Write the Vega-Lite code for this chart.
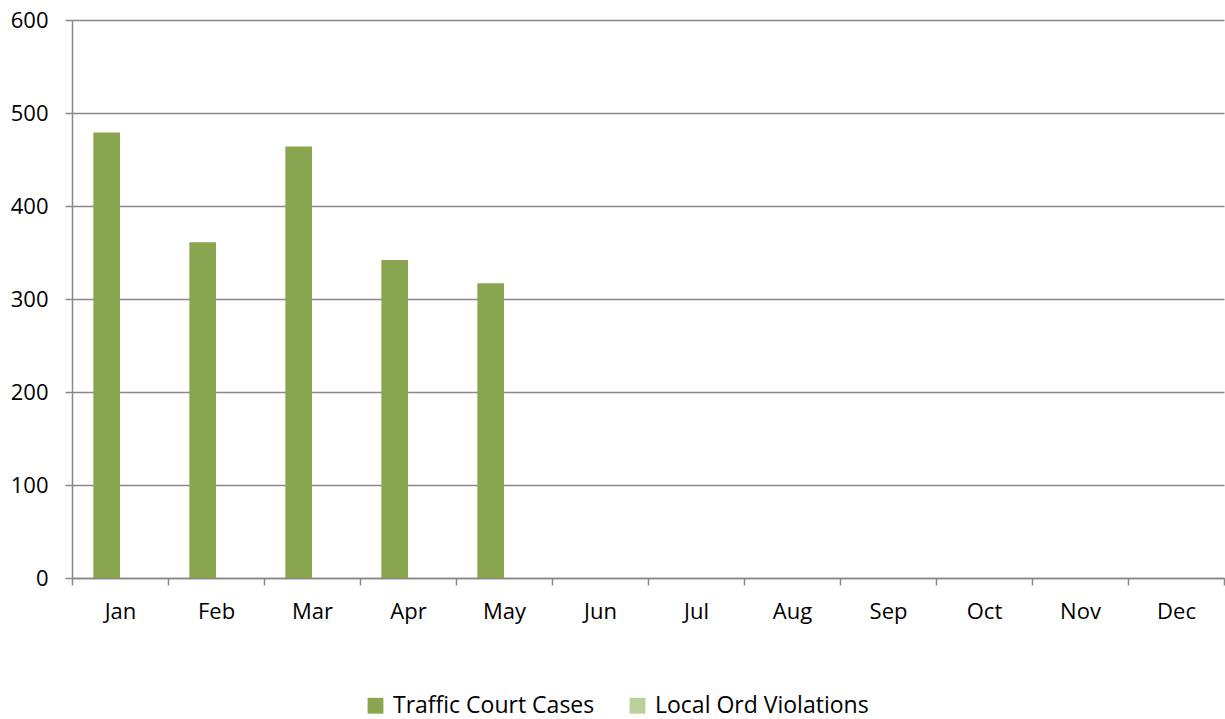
{
  "$schema": "https://vega.github.io/schema/vega-lite/v6.json",
  "width": 1152,
  "height": 558,
  "autosize": {"type": "none"},
  "padding": {"left": 72, "top": 20, "right": 1, "bottom": 141},
  "background": "white",
  "config": {"view": {"stroke": null}, "font": "Open Sans"},
  "data": {
    "values": [
      {"month": "Jan", "series": "Traffic Court Cases", "value": 479},
      {"month": "Feb", "series": "Traffic Court Cases", "value": 361},
      {"month": "Mar", "series": "Traffic Court Cases", "value": 464},
      {"month": "Apr", "series": "Traffic Court Cases", "value": 342},
      {"month": "May", "series": "Traffic Court Cases", "value": 317},
      {"month": "Jan", "series": "Local Ord Violations", "value": 0},
      {"month": "Feb", "series": "Local Ord Violations", "value": 0},
      {"month": "Mar", "series": "Local Ord Violations", "value": 0},
      {"month": "Apr", "series": "Local Ord Violations", "value": 0},
      {"month": "May", "series": "Local Ord Violations", "value": 0}
    ]
  },
  "mark": {"type": "bar"},
  "encoding": {
    "x": {
      "field": "month",
      "type": "nominal",
      "sort": ["Jan","Feb","Mar","Apr","May","Jun","Jul","Aug","Sep","Oct","Nov","Dec"],
      "scale": {"domain": ["Jan","Feb","Mar","Apr","May","Jun","Jul","Aug","Sep","Oct","Nov","Dec"], "paddingInner": 0, "paddingOuter": 0},
      "axis": {
        "title": null,
        "labelAngle": 0,
        "tickBand": "extent",
        "tickSize": 7,
        "tickColor": "#888888",
        "tickWidth": 1.5,
        "domainColor": "#888888",
        "domainWidth": 1.5,
        "labelFontSize": 22,
        "labelColor": "#000000",
        "labelPadding": 16,
        "grid": false
      }
    },
    "xOffset": {
      "field": "series",
      "scale": {"domain": ["Traffic Court Cases", "Local Ord Violations"], "paddingInner": 0, "paddingOuter": 0.8}
    },
    "y": {
      "field": "value",
      "type": "quantitative",
      "scale": {"domain": [0, 600]},
      "axis": {
        "title": null,
        "values": [0, 100, 200, 300, 400, 500, 600],
        "grid": true,
        "gridColor": "#888888",
        "gridWidth": 1.5,
        "tickSize": 7,
        "tickColor": "#888888",
        "tickWidth": 1.5,
        "domainColor": "#888888",
        "domainWidth": 1.5,
        "labelFontSize": 22,
        "labelColor": "#000000",
        "labelPadding": 17
      }
    },
    "color": {
      "field": "series",
      "type": "nominal",
      "scale": {"domain": ["Traffic Court Cases", "Local Ord Violations"], "range": ["#8aa54f", "#b9d09a"]},
      "legend": {
        "title": null,
        "orient": "none",
        "direction": "horizontal",
        "legendX": 292,
        "legendY": 674,
        "symbolType": "square",
        "symbolSize": 250,
        "symbolStrokeWidth": 0,
        "symbolOpacity": 1,
        "labelFontSize": 23,
        "labelColor": "#000000",
        "labelOffset": 6,
        "columnPadding": 31,
        "labelLimit": 400
      }
    }
  }
}
